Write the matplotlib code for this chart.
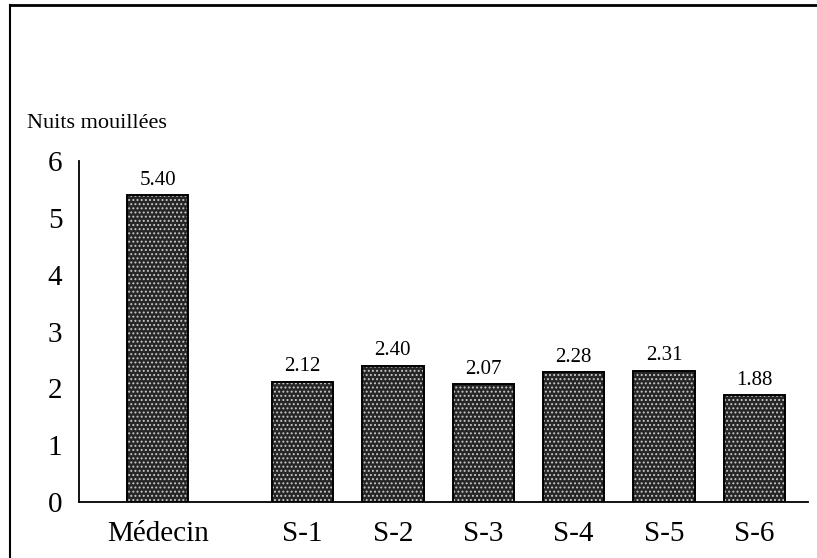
import matplotlib
matplotlib.use("Agg")
import matplotlib.pyplot as plt
from matplotlib.lines import Line2D

categories = ["Médecin", "S-1", "S-2", "S-3", "S-4", "S-5", "S-6"]
values = [5.40, 2.12, 2.40, 2.07, 2.28, 2.31, 1.88]
value_labels = ["5.40", "2.12", "2.40", "2.07", "2.28", "2.31", "1.88"]
yticks = [0, 1, 2, 3, 4, 5, 6]

plt.rcParams['font.family'] = ['Liberation Serif', 'DejaVu Serif']
plt.rcParams['hatch.linewidth'] = 0.9

fig = plt.figure(figsize=(8.17, 5.58), dpi=100)
ax = fig.add_axes([79/817, (558-502)/558, (808-79)/817, (502-161)/558])

positions = [0] + [i + 0.6 for i in range(1, len(categories))]
ax.bar(positions, values, width=0.68, color='#262626', edgecolor='#c8c8c8',
       hatch='....', linewidth=0)
ax.bar(positions, values, width=0.68, fill=False, edgecolor='#000000', linewidth=1.4)

for x, v, lab in zip(positions, values, value_labels):
    ax.annotate(lab, (x, v), xytext=(0, 4), textcoords='offset points',
                ha='center', va='bottom', fontsize=15)

ax.set_xlim(-0.87, 7.19)
ax.set_ylim(0, 6)
ax.set_yticks(yticks)
ax.set_yticklabels([str(t) for t in yticks], fontsize=21)
ax.set_xticks(positions)
ax.set_xticklabels(categories, fontsize=21)
ax.tick_params(axis='y', length=0, pad=12)
ax.tick_params(axis='x', length=0, pad=14)
for s in ['top', 'right']:
    ax.spines[s].set_visible(False)
ax.spines['left'].set_linewidth(1.3)
ax.spines['bottom'].set_linewidth(1.3)

fig.text(27/817, 1 - 123/558, "Nuits mouillées", fontsize=16, ha='left', va='center')

# outer frame (left and top edges)
fig.add_artist(Line2D([10/817, 10/817], [0, 1 - 5/558], color='black', linewidth=1.5,
                      transform=fig.transFigure))
fig.add_artist(Line2D([10/817, 1], [1 - 5/558, 1 - 5/558], color='black', linewidth=2,
                      transform=fig.transFigure))

fig.savefig("out.png", dpi=100)
